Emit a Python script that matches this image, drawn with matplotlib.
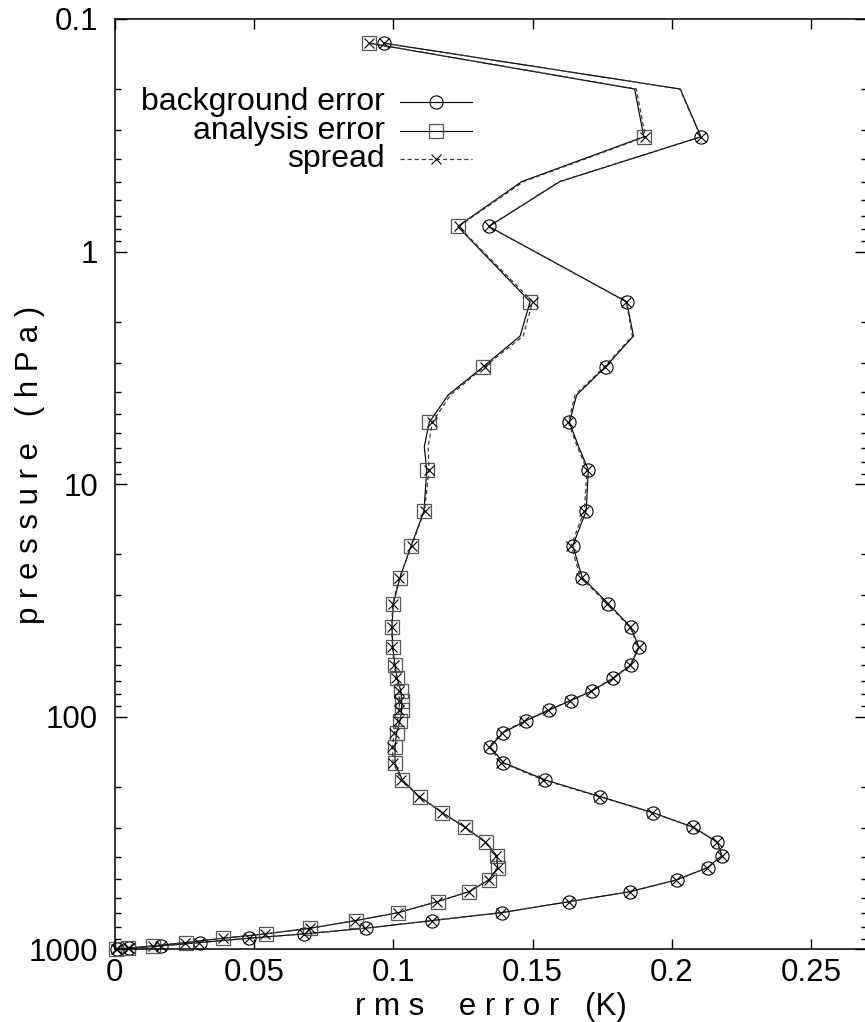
import matplotlib
matplotlib.use("Agg")
import matplotlib.pyplot as plt
from matplotlib.ticker import FixedLocator, NullFormatter, LogLocator
from matplotlib.lines import Line2D

plt.rcParams['font.family'] = ['Liberation Sans', 'DejaVu Sans']

# model levels (hPa)
pressure = [0.127, 0.2, 0.321, 0.5, 0.78, 1.643, 2.307, 3.125, 4.136, 5.42,
            6.9, 8.69, 13.04, 18.38, 25.2, 32.7, 41.2, 50.3, 59.9, 68.3,
            77.4, 85.2, 93.5, 104.2, 117.0, 134.5, 157.5, 187.0, 220.6, 258.4,
            298.7, 346.3, 395.7, 445.6, 503.0, 564.9, 623.7, 695.5, 752.7, 811.6,
            858.5, 896.0, 935.8, 966.9, 989.3, 1000.0]

background_error = [0.0966, 0.2030, 0.2104, 0.1598, 0.1343, 0.1837, 0.1862, 0.1762, 0.1658, 0.1632,
                    0.1665, 0.1700, 0.1692, 0.1644, 0.1678, 0.1772, 0.1852, 0.1882, 0.1852, 0.1790,
                    0.1714, 0.1637, 0.1560, 0.1475, 0.1395, 0.1347, 0.1395, 0.1545, 0.1743, 0.1931,
                    0.2077, 0.2163, 0.2179, 0.2128, 0.2017, 0.1850, 0.1632, 0.1389, 0.1138, 0.0901,
                    0.0681, 0.0483, 0.0305, 0.0166, 0.0052, 0.0010]

analysis_error = [0.0914, 0.1866, 0.1899, 0.1461, 0.1231, 0.1491, 0.1455, 0.1323, 0.1197, 0.1129,
                  0.1111, 0.1120, 0.1110, 0.1064, 0.1024, 0.1000, 0.0995, 0.0998, 0.1006, 0.1014,
                  0.1027, 0.1030, 0.1030, 0.1024, 0.1012, 0.1006, 0.1006, 0.1032, 0.1094, 0.1176,
                  0.1257, 0.1332, 0.1371, 0.1375, 0.1343, 0.1272, 0.1159, 0.1018, 0.0865, 0.0701,
                  0.0542, 0.0390, 0.0255, 0.0139, 0.0047, 0.0003]

background_spread = [0.0966, 0.2028, 0.2103, 0.1596, 0.1342, 0.1836, 0.1858, 0.1758, 0.1652, 0.1628,
                     0.1660, 0.1695, 0.1685, 0.1638, 0.1672, 0.1768, 0.1849, 0.1880, 0.1850, 0.1787,
                     0.1711, 0.1634, 0.1556, 0.1470, 0.1390, 0.1343, 0.1388, 0.1538, 0.1738, 0.1928,
                     0.2075, 0.2162, 0.2178, 0.2127, 0.2016, 0.1849, 0.1631, 0.1388, 0.1137, 0.0900,
                     0.0680, 0.0482, 0.0304, 0.0165, 0.0051, 0.0010]

analysis_spread = [0.0914, 0.1872, 0.1905, 0.1468, 0.1234, 0.1500, 0.1466, 0.1328, 0.1205, 0.1140,
                   0.1125, 0.1128, 0.1112, 0.1066, 0.1022, 0.0998, 0.0994, 0.0997, 0.1003, 0.1010,
                   0.1020, 0.1022, 0.1021, 0.1015, 0.1003, 0.0997, 0.0999, 0.1028, 0.1092, 0.1175,
                   0.1256, 0.1330, 0.1369, 0.1374, 0.1342, 0.1271, 0.1158, 0.1017, 0.0864, 0.0700,
                   0.0541, 0.0389, 0.0254, 0.0138, 0.0046, 0.0003]

x_ticks = [0, 0.05, 0.1, 0.15, 0.2, 0.25]
x_tick_labels = ["0", "0.05", "0.1", "0.15", "0.2", "0.25"]
y_ticks = [0.1, 1, 10, 100, 1000]
y_tick_labels = ["0.1", "1", "10", "100", "1000"]

# levels carrying a symbol (the line also passes through the unmarked ones)
unmarked = {1, 3, 6, 8, 10}
marked = [i for i in range(len(pressure)) if i not in unmarked]

FS = 22.5
FS_KEY = 23
W, H = 865, 1022
fig = plt.figure(figsize=(W / 100, H / 100), dpi=100)
L, R, T, B = 114.7, 867.0, 19.0, 949.3
ax = fig.add_axes([L / W, 1 - B / H, (R - L) / W, (B - T) / H])

lw = 0.85
sq_kw = dict(marker='s', ms=9.5, mfc='none', mec='#555555', mew=0.9)
ci_kw = dict(marker='o', ms=9.5, mfc='none', mec='black', mew=0.8)
x_kw = dict(marker='x', ms=7.5, mec='black', mew=0.8)

ax.plot(background_error, pressure, color='black', lw=lw, markevery=marked,
        clip_on=False, **ci_kw)
ax.plot(analysis_error, pressure, color='black', lw=lw, markevery=marked,
        clip_on=False, **sq_kw)
for xs in (background_spread, analysis_spread):
    ax.plot(xs, pressure, color='#333333', lw=lw, ls=(0, (3.5, 2.5)),
            markevery=marked, clip_on=False, **x_kw)

ax.set_yscale('log')
ax.set_ylim(1000, 0.1)
ax.set_xlim(0, 0.27)

ax.xaxis.set_major_locator(FixedLocator(x_ticks))
ax.set_xticklabels(x_tick_labels)
ax.yaxis.set_major_locator(FixedLocator(y_ticks))
ax.set_yticklabels(y_tick_labels)
ax.yaxis.set_minor_locator(LogLocator(base=10, subs=range(2, 10)))
ax.yaxis.set_minor_formatter(NullFormatter())

ax.tick_params(axis='both', which='both', direction='in', top=True, right=True,
               labelsize=FS, width=1.0, color='black')
ax.tick_params(axis='x', which='major', length=7, pad=6)
ax.tick_params(axis='y', which='major', length=8.5, pad=12)
ax.tick_params(axis='y', which='minor', length=4)
for s in ax.spines.values():
    s.set_linewidth(1.1)
    s.set_color('black')

# key in the upper left, text right-aligned before the sample
rows = [("background error", 0.9107, dict(ls='-', color='black'), ci_kw),
        ("analysis error", 0.8800, dict(ls='-', color='black'), sq_kw),
        ("spread", 0.8493, dict(ls=(0, (3.5, 2.5)), color='#333333'), x_kw)]
for label, yy, lkw, mkw in rows:
    ax.text(0.3593, yy, label, transform=ax.transAxes, ha='right', va='center',
            fontsize=FS_KEY)
    ax.add_line(Line2D([0.3792, 0.4749], [yy, yy], transform=ax.transAxes,
                       lw=lw, **lkw))
    ax.add_line(Line2D([0.4271], [yy], transform=ax.transAxes, ls='none', **mkw))

fig.text(491 / W, 1 - 1015 / H, "r m s    e r r o r   (K)", ha='center', va='baseline',
         fontsize=FS)
fig.text(30 / W, 1 - 465 / H, "p r e s s u r e   ( h P a )", ha='center', va='center',
         rotation=90, fontsize=FS)

fig.savefig("out.png", dpi=100)
